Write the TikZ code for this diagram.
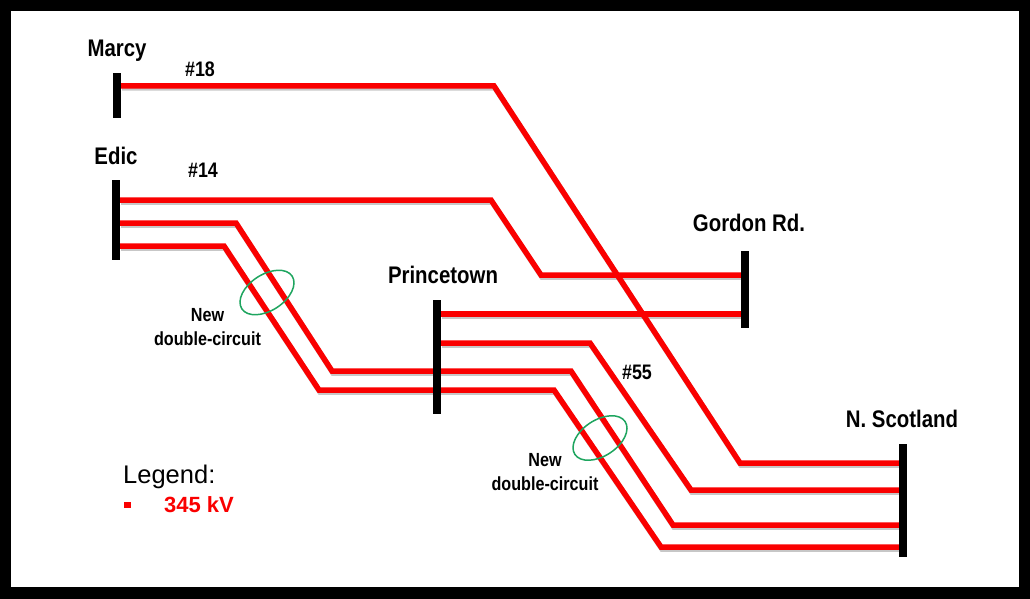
\documentclass[tikz,border=0pt]{standalone}
\usepackage{fontspec}
\setmainfont{Liberation Sans}
\newfontfamily\narrowbold[FakeStretch=0.85]{Liberation Sans Bold}
\usetikzlibrary{backgrounds}
\definecolor{linered}{RGB}{250,0,0}
\definecolor{ringgreen}{RGB}{30,165,95}
\tikzset{
  x=1pt,y=-1pt,
  busbar/.style={fill=black,draw=none,inner sep=0pt,minimum width=8pt},
  feeder/.style={draw=linered,line width=5.5pt,line join=miter},
  feedershadow/.style={draw=black,opacity=0.22,line width=5.5pt,line join=miter},
  ring/.style={draw=ringgreen,line width=1.5pt},
  stationlabel/.style={font=\narrowbold\fontsize{24}{26}\selectfont,inner sep=0pt,text=black},
  circuitlabel/.style={font=\narrowbold\fontsize{21}{23}\selectfont,inner sep=0pt,text=black},
  notelabel/.style={font=\narrowbold\fontsize{19}{24}\selectfont,inner sep=0pt,align=center,text=black},
}
\begin{document}
\begin{tikzpicture}
\useasboundingbox (0,0) rectangle (1030,599);
% buses
\node[busbar,minimum height=45pt] (marcy) at (117,95.5) {};
\node[busbar,minimum height=80pt] (edic) at (116,220) {};
\node[busbar,minimum height=114pt] (princetown) at (437,357) {};
\node[busbar,minimum height=77pt] (gordon) at (745,289.5) {};
\node[busbar,minimum height=113pt] (scotland) at (903,500.5) {};
% bends
\coordinate (a1) at (494,86);  \coordinate (a2) at (740,463);
\coordinate (b1) at (491,200); \coordinate (b2) at (541,275);
\coordinate (c1) at (236,223); \coordinate (c2) at (332,371);
\coordinate (c3) at (571,371); \coordinate (c4) at (673,525);
\coordinate (d1) at (224,246); \coordinate (d2) at (319,390);
\coordinate (d3) at (554,390); \coordinate (d4) at (661,547);
\coordinate (e1) at (590,343); \coordinate (e2) at (691,490);
\coordinate (f1) at (600,314);
\begin{scope}[on background layer]
  \fill[black] (0,0) rectangle (1030,599);
  \fill[white] (11,11) rectangle (1019,587);
  \begin{scope}[transform canvas={shift={(1pt,-2pt)}}]
    \path[feedershadow] (marcy.east |- a1) -- (a1) -- (a2) -- (scotland.west |- a2);
    \path[feedershadow] (edic.east |- b1) -- (b1) -- (b2) -- (gordon.west |- b2);
    \path[feedershadow] (edic.east |- c1) -- (c1) -- (c2) -- (c3) -- (c4) -- (scotland.west |- c4);
    \path[feedershadow] (edic.east |- d1) -- (d1) -- (d2) -- (d3) -- (d4) -- (scotland.west |- d4);
    \path[feedershadow] (princetown.east |- f1) -- (gordon.west |- f1);
    \path[feedershadow] (princetown.east |- e1) -- (e1) -- (e2) -- (scotland.west |- e2);
  \end{scope}
  \path[feeder] (marcy.east |- a1) -- (a1) -- (a2) -- (scotland.west |- a2);
  \path[feeder] (edic.east |- b1) -- (b1) -- (b2) -- (gordon.west |- b2);
  \path[feeder] (edic.east |- c1) -- (c1) -- (c2) -- (c3) -- (c4) -- (scotland.west |- c4);
  \path[feeder] (edic.east |- d1) -- (d1) -- (d2) -- (d3) -- (d4) -- (scotland.west |- d4);
  \path[feeder] (princetown.east |- f1) -- (gordon.west |- f1);
  \path[feeder] (princetown.east |- e1) -- (e1) -- (e2) -- (scotland.west |- e2);
\end{scope}
% rings
\draw[ring,rotate around={33:(267,292.5)}] (267,292.5) ellipse [x radius=30,y radius=18];
\draw[ring,rotate around={33:(600,438)}] (600,438) ellipse [x radius=30,y radius=18];
% labels
\node[stationlabel] (lmarcy) at (117,51) {Marcy};
\node[stationlabel] (ledic) at (116,156) {Edic};
\node[stationlabel] (lprince) at (443,275) {Princetown};
\node[stationlabel] (lgordon) at (749,223) {Gordon Rd.};
\node[stationlabel] (lscot) at (902,419) {N. Scotland};
\node[circuitlabel] (n18) at (200,69) {\#18};
\node[circuitlabel] (n14) at (203,170) {\#14};
\node[circuitlabel] (n55) at (637,372) {\#55};
\node[notelabel] (note1) at (207.5,327.5) {New\\double-circuit};
\node[notelabel] (note2) at (545,472) {New\\double-circuit};
\node[inner sep=0pt,anchor=west,font=\fontsize{25.5}{27}\selectfont] (legend) at (123,477) {Legend:};
\node[fill=linered,inner sep=0pt,minimum size=6.5pt] (legsq) at (127.5,505) {};
\node[inner sep=0pt,anchor=west,text=linered,font=\bfseries\fontsize{22}{24}\selectfont] (kv) at (164,505) {345 kV};
\end{tikzpicture}
\end{document}
